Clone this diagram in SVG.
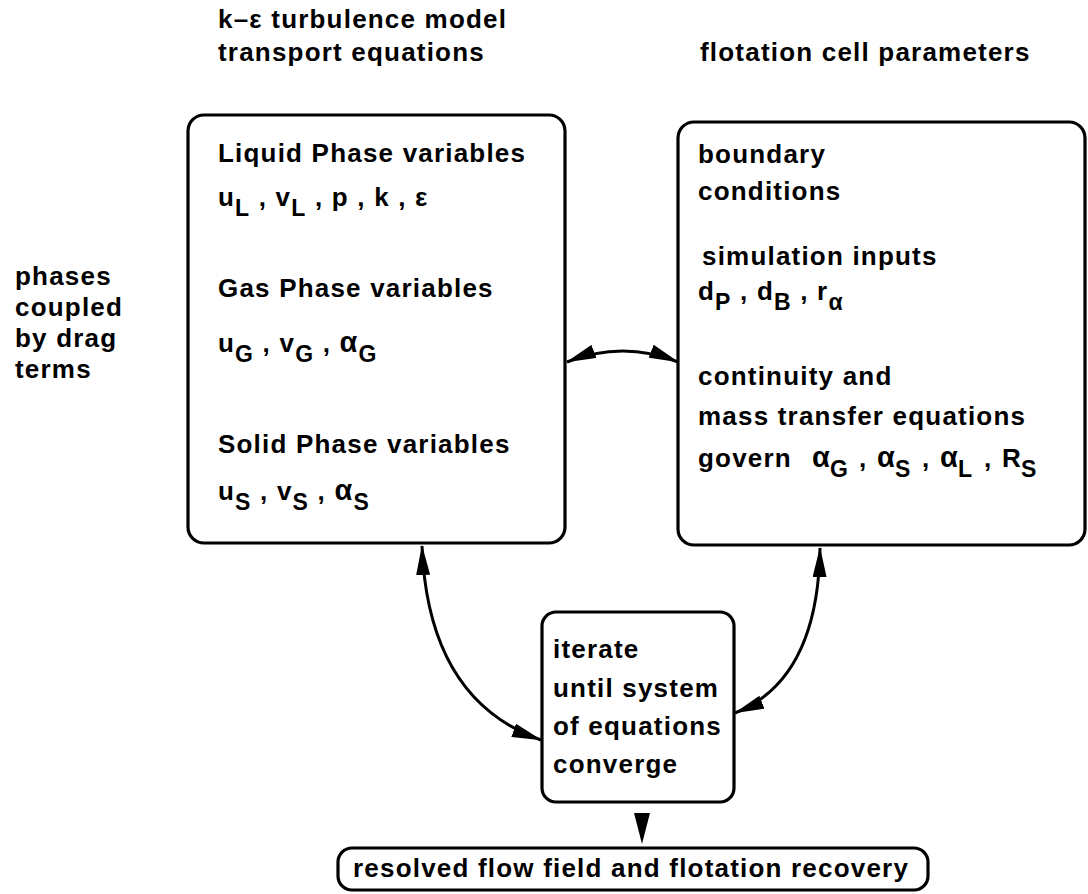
<svg xmlns="http://www.w3.org/2000/svg" width="1088" height="894" viewBox="0 0 1088 894">
  <style>
    text { font-family: "Liberation Sans", Arial, sans-serif; font-weight: bold; font-size: 26px; letter-spacing: 1.2px; fill: #000; }
    .sub { font-size: 23px; }
    .gr { font-size: 29px; }
    .box { fill: #fff; stroke: #000; stroke-width: 3.2; }
    .conn { fill: none; stroke: #000; stroke-width: 3; }
  </style>
  <defs>
    <marker id="arrow" viewBox="0 0 30 14" refX="29" refY="7" markerWidth="30" markerHeight="14" markerUnits="userSpaceOnUse" orient="auto-start-reverse">
      <path d="M0,0 L30,7 L0,14 Z" fill="#000"/>
    </marker>
  </defs>
  <rect width="1088" height="894" fill="#fff"/>

  <!-- headings -->
  <g id="headings">
    <text x="218" y="28">k–ε turbulence model</text>
    <text x="218" y="61">transport equations</text>
    <text x="700" y="61">flotation cell parameters</text>
  </g>

  <g id="drag-note">
    <text x="15" y="285">phases</text>
    <text x="15" y="316">coupled</text>
    <text x="15" y="347">by drag</text>
    <text x="15" y="378">terms</text>
  </g>

  <!-- phase variables -->
  <g id="phase-variables">
    <rect class="box" x="188" y="115" width="377" height="428" rx="16"/>
    <text x="218" y="162">Liquid Phase variables</text>
    <text x="218" y="206">u<tspan class="sub" dy="10">L</tspan><tspan dy="-10"> , v</tspan><tspan class="sub" dy="10">L</tspan><tspan dy="-10"> , p , k , ε</tspan></text>
    <text x="218" y="297">Gas Phase variables</text>
    <text x="218" y="352">u<tspan class="sub" dy="10">G</tspan><tspan dy="-10"> , v</tspan><tspan class="sub" dy="10">G</tspan><tspan dy="-10"> , </tspan><tspan class="gr">α</tspan><tspan class="sub" dy="10">G</tspan></text>
    <text x="218" y="453">Solid Phase variables</text>
    <text x="218" y="500">u<tspan class="sub" dy="10">S</tspan><tspan dy="-10"> , v</tspan><tspan class="sub" dy="10">S</tspan><tspan dy="-10"> , </tspan><tspan class="gr">α</tspan><tspan class="sub" dy="10">S</tspan></text>
  </g>

  <!-- cell parameters -->
  <g id="cell-parameters">
    <rect class="box" x="678" y="122" width="407" height="423" rx="16"/>
    <text x="698" y="163">boundary</text>
    <text x="698" y="200">conditions</text>
    <text x="702" y="265">simulation inputs</text>
    <text x="698" y="300">d<tspan class="sub" dy="10">P</tspan><tspan dy="-10"> , d</tspan><tspan class="sub" dy="10">B</tspan><tspan dy="-10"> ,  r</tspan><tspan class="sub" dy="10">α</tspan></text>
    <text x="698" y="385">continuity and</text>
    <text x="698" y="425">mass transfer equations</text>
    <text y="467"><tspan x="698">govern</tspan><tspan class="gr" x="812">α</tspan><tspan class="sub" x="830" dy="10">G</tspan><tspan x="859" dy="-10">,</tspan><tspan class="gr" x="877">α</tspan><tspan class="sub" x="895" dy="10">S</tspan><tspan x="922" dy="-10">,</tspan><tspan class="gr" x="940">α</tspan><tspan class="sub" x="958" dy="10">L</tspan><tspan x="984" dy="-10">,</tspan><tspan x="1002">R</tspan><tspan class="sub" x="1021" dy="10">S</tspan></text>
  </g>

  <!-- iteration -->
  <g id="iterate">
    <rect class="box" x="542" y="612" width="192" height="190" rx="14"/>
    <text x="553" y="658">iterate</text>
    <text x="553" y="697">until system</text>
    <text x="553" y="735">of  equations</text>
    <text x="553" y="773">converge</text>
  </g>

  <!-- result -->
  <g id="result">
    <rect class="box" x="338" y="848" width="590" height="42" rx="14"/>
    <text x="353" y="877">resolved flow field and flotation recovery</text>
  </g>

  <g id="connectors">
    <path class="conn" d="M567,362 Q623,340 678,362" marker-start="url(#arrow)" marker-end="url(#arrow)"/>
    <path class="conn" d="M422,546 Q428,700 541,740" marker-start="url(#arrow)" marker-end="url(#arrow)"/>
    <path class="conn" d="M820,548 Q818,680 735,713" marker-start="url(#arrow)" marker-end="url(#arrow)"/>
    <path d="M634,813 L650,813 L642,844 Z" fill="#000"/>
  </g>
</svg>
